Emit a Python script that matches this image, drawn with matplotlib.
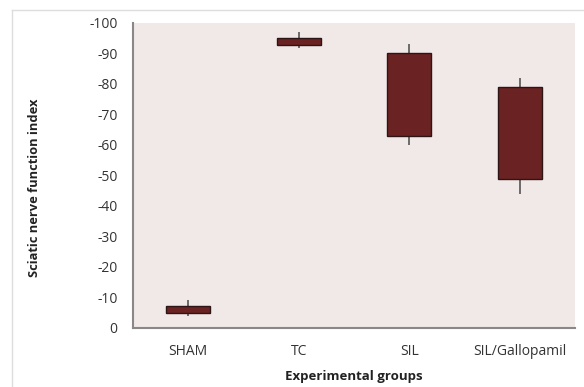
import matplotlib
matplotlib.use("Agg")
import matplotlib.pyplot as plt
from matplotlib.lines import Line2D
from matplotlib.ticker import FuncFormatter

groups = ["SHAM", "TC", "SIL", "SIL/Gallopamil"]
box_top = [-7.0, -95.0, -90.0, -79.0]
box_bottom = [-4.6, -92.8, -62.8, -48.9]
whisker_top = [-8.9, -97.1, -93.1, -82.0]
whisker_bottom = [-3.7, -91.9, -59.8, -43.8]
yticks = [0, -10, -20, -30, -40, -50, -60, -70, -80, -90, -100]

plt.rcParams['font.family'] = ['Open Sans', 'DejaVu Sans']

fig = plt.figure(figsize=(5.84, 3.87), dpi=100)
ax = fig.add_axes([133/584, (387-327.5)/387, (575-133)/584, (327.5-23)/387])
ax.set_facecolor("#F1E8E8")

x = list(range(len(groups)))
ax.vlines(x, whisker_top, whisker_bottom, colors="#555555", linewidth=1.2, zorder=2)
heights = [t - b for t, b in zip(box_top, box_bottom)]
ax.bar(x, heights, bottom=box_bottom, width=0.4, color="#6B2222",
       edgecolor="#2E1515", linewidth=1.0, zorder=3)

ax.set_xlim(-0.5, len(groups) - 0.5)
ax.set_ylim(0, -100)
ax.set_yticks(yticks)
ax.yaxis.set_major_formatter(FuncFormatter(lambda v, p: "%d" % v))
ax.set_xticks(x)
ax.set_xticklabels(groups)
ax.tick_params(axis="both", length=0, labelsize=10, colors="#333333")
ax.tick_params(axis="y", pad=11)
ax.tick_params(axis="x", pad=12)

for s in ["top", "right"]:
    ax.spines[s].set_visible(False)
ax.spines["left"].set_color("#888888")
ax.spines["bottom"].set_color("#888888")
ax.spines["left"].set_linewidth(1.5)
ax.spines["bottom"].set_linewidth(1.5)

ax.set_xlabel("Experimental groups", fontsize=9.5, fontweight="bold", labelpad=8, color="#222222")
ax.set_ylabel("Sciatic nerve function index", fontsize=9.3, fontweight="bold", color="#222222")
ax.yaxis.set_label_coords(-92/442, 0.46)

fig.add_artist(Line2D([12/584, 1.0], [1 - 10/387, 1 - 10/387], transform=fig.transFigure,
                      color="#DDDDDD", linewidth=1))
fig.add_artist(Line2D([12/584, 12/584], [0, 1 - 10/387], transform=fig.transFigure,
                      color="#DDDDDD", linewidth=1))

fig.savefig("out.png", dpi=100)
